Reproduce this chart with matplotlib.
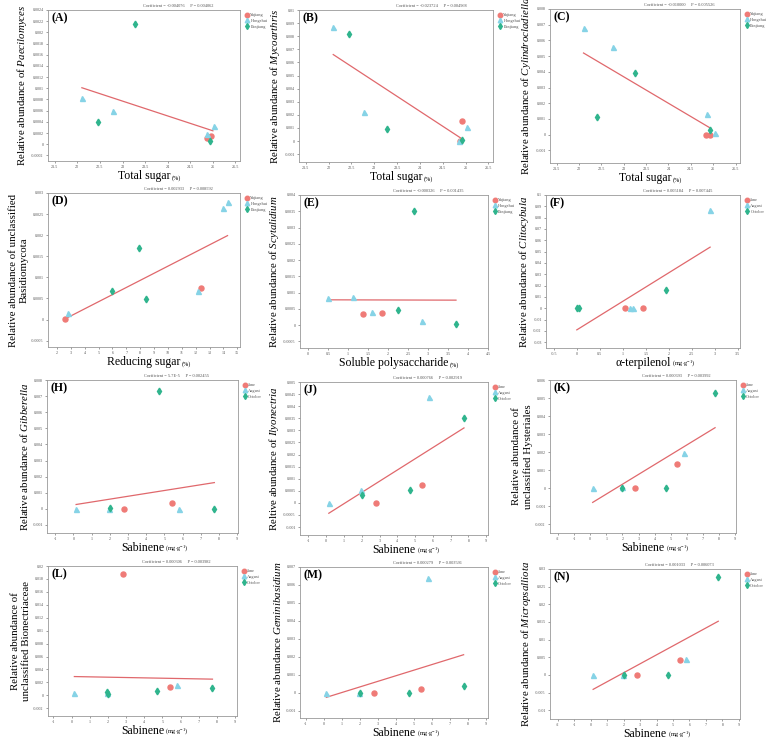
import numpy as np
import matplotlib.pyplot as plt
from matplotlib.ticker import MultipleLocator, FuncFormatter

plt.rcParams['font.family'] = ['Liberation Serif', 'DejaVu Serif']
plt.rcParams['mathtext.fontset'] = 'custom'
plt.rcParams['mathtext.rm'] = 'Liberation Serif'
plt.rcParams['mathtext.it'] = 'Liberation Serif:italic'

sites = ['Yujiang', 'Hongshui', 'Panjiang']
months = ['June', 'August', 'October']

# group index: 0 = red circle, 1 = blue triangle, 2 = green diamond
A_x = [24.87, 24.95, 22.1, 22.78, 24.87, 25.03, 23.28, 22.45, 24.93]
A_y = [0.00012, 0.00015, 0.00083, 0.00059, 0.00019, 0.00032, 0.00215, 0.0004, 0.00005]
A_g = [0, 0, 1, 1, 1, 1, 2, 2, 2]
A_fit_x = [22.1, 25.0]
A_fit_y = [0.00101, 0.00024]

B_x = [24.92, 24.88, 22.1, 22.78, 25.03, 24.85, 22.45, 23.28, 24.92]
B_y = [0.00155, 0.0, 0.0087, 0.0022, 0.0011, 0.0, 0.0082, 0.0009, 0.0001]
B_g = [0, 0, 1, 1, 1, 1, 2, 2, 2]
B_fit_x = [22.1, 24.95]
B_fit_y = [0.0066, 0.0001]

C_x = [24.85, 24.92, 22.1, 22.75, 24.87, 25.03, 23.25, 22.4, 24.93]
C_y = [0.0, 0.0, 0.0068, 0.0056, 0.0013, 0.0001, 0.0039, 0.0011, 0.0003]
C_g = [0, 0, 1, 1, 1, 1, 2, 2, 2]
C_fit_x = [22.1, 24.95]
C_fit_y = [0.0052, 0.0004]

D_x = [2.6, 12.4, 2.8, 12.2, 14.0, 14.3, 7.9, 6.0, 8.4]
D_y = [0.00002, 0.00074, 0.00015, 0.00068, 0.00265, 0.00278, 0.0017, 0.00067, 0.00048]
D_g = [0, 0, 1, 1, 1, 1, 2, 2, 2]
D_fit_x = [2.6, 14.3]
D_fit_y = [0.00002, 0.00199]

E_x = [1.38, 1.85, 0.5, 1.12, 1.6, 2.85, 2.25, 2.65, 3.7]
E_y = [0.00035, 0.00039, 0.00085, 0.00086, 0.00042, 0.00013, 0.00048, 0.0035, 0.00005]
E_g = [0, 0, 1, 1, 1, 1, 2, 2, 2]
E_fit_x = [0.5, 3.7]
E_fit_y = [0.00078, 0.00077]

F_x = [1.05, 1.45, 1.15, 1.22, 2.9, 0.0, 0.05, 1.93]
F_y = [0.0, 0.0, 0.0, 0.0, 0.0865, 0.0, 0.0, 0.016]
F_g = [0, 0, 1, 1, 1, 2, 2, 2]
F_fit_x = [0.0, 2.9]
F_fit_y = [-0.019, 0.054]

H_x = [2.8, 5.4, 0.15, 1.95, 5.8, 2.0, 4.7, 7.75]
H_y = [0.0, 0.00035, 0.0, 0.0, 0.0, 0.00003, 0.0073, 0.0]
H_g = [0, 0, 1, 1, 1, 2, 2, 2]
H_fit_x = [0.15, 7.75]
H_fit_y = [0.00027, 0.00163]

J_x = [2.8, 5.4, 0.15, 1.95, 5.8, 2.0, 4.7, 7.75]
J_y = [0.0, 0.00072, 0.0, 0.00052, 0.0044, 0.00032, 0.00052, 0.0035]
J_g = [0, 0, 1, 1, 1, 2, 2, 2]
J_fit_x = [0.15, 7.75]
J_fit_y = [-0.00043, 0.0031]

K_x = [2.8, 5.4, 0.15, 1.95, 5.8, 2.0, 4.7, 7.75]
K_y = [0.0, 0.00133, 0.0, 0.00005, 0.00195, 0.0, 0.0, 0.0053]
K_g = [0, 0, 1, 1, 1, 2, 2, 2]
K_fit_x = [0.15, 7.75]
K_fit_y = [-0.0008, 0.00335]

L_x = [2.8, 5.4, 0.15, 1.95, 5.8, 2.0, 1.95, 4.7, 7.75]
L_y = [0.0188, 0.0013, 0.0003, 0.0004, 0.0016, 0.0002, 0.0005, 0.0006, 0.0011]
L_g = [0, 0, 1, 1, 1, 2, 2, 2, 2]
L_fit_x = [0.15, 7.75]
L_fit_y = [0.0029, 0.0025]

M_x = [2.8, 5.4, 0.15, 1.95, 5.8, 2.0, 4.7, 7.75]
M_y = [0.0, 0.00023, 0.0, 0.0, 0.0064, 0.0, 0.0, 0.00038]
M_g = [0, 0, 1, 1, 1, 2, 2, 2]
M_fit_x = [0.15, 7.75]
M_fit_y = [-0.00025, 0.00212]

N_x = [2.8, 5.4, 0.15, 1.95, 5.8, 2.0, 4.7, 7.75]
N_y = [0.0, 0.0043, 0.0, 0.0, 0.0045, 0.0, 0.0, 0.0278]
N_g = [0, 0, 1, 1, 1, 2, 2, 2]
N_fit_x = [0.15, 7.75]
N_fit_y = [-0.0041, 0.0152]

coefs = ['-0.004076', '-0.023724', '-0.010000', '0.002933', '-0.000326', '0.005184',
         '5.7E-5', '0.000766', '0.000693', '0.000306', '0.000279', '0.001033']
pvals = ['0.004062', '0.004968', '0.005526', '0.008592', '0.001435', '0.007445',
         '0.002455', '0.002919', '0.003992', '0.003982', '0.003591', '0.006073']

colors = ['#ef7b77', '#86d3e6', '#2fb48d']
markers = ['o', '^', 'd']
W, H = 778, 741

fig = plt.figure(figsize=(W / 100, H / 100), dpi=100)


def fmt(v, pos):
    v = round(v, 7)
    if v == 0:
        return '0'
    return '%g' % v


def panel(box, letter, x, y, g, fx, fy, names, coef, p, xlab, unit, ylab,
          xlim, ylim, xstep, ystep):
    l, t, w, h = box
    ax = fig.add_axes([l / W, 1 - (t + h) / H, w / W, h / H])
    x = np.array(x)
    y = np.array(y)
    g = np.array(g)
    ax.plot(fx, fy, color='#e0686c', lw=0.9, zorder=2)
    for i in range(3):
        m = g == i
        ax.plot(x[m], y[m], ls='none', marker=markers[i], color=colors[i],
                ms=3.6 if i != 2 else 3.4, label=names[i], zorder=3)
    ax.set_xlim(xlim)
    ax.set_ylim(ylim)
    ax.xaxis.set_major_locator(MultipleLocator(xstep))
    ax.yaxis.set_major_locator(MultipleLocator(ystep))
    ax.xaxis.set_major_formatter(FuncFormatter(fmt))
    ax.yaxis.set_major_formatter(FuncFormatter(fmt))
    ax.tick_params(labelsize=3, colors='#555555', length=1.5, width=0.4, pad=1.5)
    for s in ax.spines.values():
        s.set_color('#999999')
        s.set_linewidth(0.6)
    ax.text(0.02, 0.985, letter, transform=ax.transAxes, fontsize=8.5,
            fontweight='bold', va='top', ha='left')
    ax.text(0.68, 1.015, 'Coefficient = %s     P = %s' % (coef, p),
            transform=ax.transAxes, fontsize=3.2, color='#555555',
            ha='center', va='bottom')
    xl = ax.set_xlabel(xlab, fontsize=8.5, labelpad=0.5)
    ax.annotate(unit, xy=(1, 0.08), xycoords=xl, xytext=(1, 0),
                textcoords='offset points', fontsize=4.5, va='bottom', ha='left')
    ax.set_ylabel(ylab, fontsize=7.8, labelpad=2)
    leg = ax.legend(loc='upper left', bbox_to_anchor=(1.01, 1.0), fontsize=3.2,
                    frameon=False, handletextpad=0.2, borderpad=0.2,
                    labelspacing=0.35, handlelength=1.0, markerscale=0.9)
    for txt in leg.get_texts():
        txt.set_color('#555555')
    return ax


pct = '(%)'
mg = r'(mg$\cdot$g$^{-1}$)'

panel((48, 10, 192, 151), '(A)', A_x, A_y, A_g, A_fit_x, A_fit_y, sites,
      coefs[0], pvals[0], 'Total sugar', pct,
      r'Relative abundance of $\mathit{Paecilomyces}$',
      (21.35, 25.6), (-0.0003, 0.0024), 0.5, 0.0002)
panel((299, 10, 194, 152), '(B)', B_x, B_y, B_g, B_fit_x, B_fit_y, sites,
      coefs[1], pvals[1], 'Total sugar', pct,
      r'Relative abundance of $\mathit{Mycoarthris}$',
      (21.35, 25.6), (-0.0016, 0.01), 0.5, 0.001)
panel((550, 9, 190, 154), '(C)', C_x, C_y, C_g, C_fit_x, C_fit_y, sites,
      coefs[2], pvals[2], 'Total sugar', pct,
      r'Relative abundance of $\mathit{Cylindrocladiella}$',
      (21.35, 25.6), (-0.0018, 0.008), 0.5, 0.001)

panel((48, 193, 192, 154), '(D)', D_x, D_y, D_g, D_fit_x, D_fit_y, sites,
      coefs[3], pvals[3], 'Reducing sugar', pct,
      'Relative abundance of unclassified\nBasidiomycota',
      (1.35, 15.2), (-0.00065, 0.003), 1, 0.0005)
panel((300, 195, 188, 153), '(E)', E_x, E_y, E_g, E_fit_x, E_fit_y, sites,
      coefs[4], pvals[4], 'Soluble polysaccharide', pct,
      r'Relative abundance of $\mathit{Scytalidium}$',
      (-0.2, 4.5), (-0.0007, 0.004), 0.5, 0.0005)
panel((546, 195, 194, 153), '(F)', F_x, F_y, F_g, F_fit_x, F_fit_y, months,
      coefs[5], pvals[5], u'\u03b1-terpilenol', mg,
      r'Relative abundance of $\mathit{Clitocybula}$',
      (-0.67, 3.55), (-0.035, 0.1), 0.5, 0.01)

panel((47, 380, 191, 153), '(H)', H_x, H_y, H_g, H_fit_x, H_fit_y, months,
      coefs[6], pvals[6], 'Sabinene', mg,
      r'Relative abundance of $\mathit{Gibberella}$',
      (-1.45, 9.05), (-0.0015, 0.008), 1, 0.001)
panel((300, 382, 188, 153), '(J)', J_x, J_y, J_g, J_fit_x, J_fit_y, months,
      coefs[7], pvals[7], 'Sabinene', mg,
      r'Reltive abundance of $\mathit{Ilyonectria}$',
      (-1.47, 9.1), (-0.00133, 0.005), 1, 0.0005)
panel((550, 380, 186, 153), '(K)', K_x, K_y, K_g, K_fit_x, K_fit_y, months,
      coefs[8], pvals[8], 'Sabinene', mg,
      'Relative abundance of\nunclassified Hysteriales',
      (-2.5, 9.05), (-0.0025, 0.006), 1, 0.001)

panel((48, 566, 189, 150), '(L)', L_x, L_y, L_g, L_fit_x, L_fit_y, months,
      coefs[9], pvals[9], 'Sabinene', mg,
      'Relative abundance of\nunclassified Bionectriaceae',
      (-1.3, 9.1), (-0.0032, 0.02), 1, 0.002)
panel((300, 567, 188, 151), '(M)', M_x, M_y, M_g, M_fit_x, M_fit_y, months,
      coefs[10], pvals[10], 'Sabinene', mg,
      r'Relative abundance $\mathit{Geminibasidium}$',
      (-1.31, 9.1), (-0.0014, 0.007), 1, 0.001)
panel((550, 569, 190, 150), '(N)', N_x, N_y, N_g, N_fit_x, N_fit_y, months,
      coefs[11], pvals[11], 'Sabinene', mg,
      r'Relative abundance of $\mathit{Micropsalliota}$',
      (-2.47, 9.07), (-0.0125, 0.03), 1, 0.005)

fig.savefig('out.png', dpi=100)
